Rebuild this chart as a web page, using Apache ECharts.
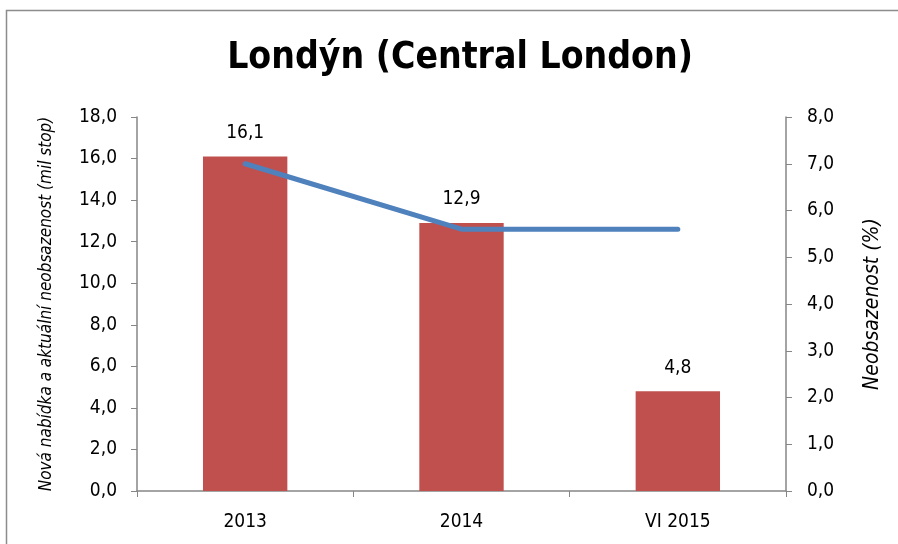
<!DOCTYPE html>
<html>
<head>
<meta charset="utf-8">
<script src="https://cdn.jsdelivr.net/npm/echarts@6/dist/echarts.min.js"></script>
<style>
  html, body { margin: 0; padding: 0; background: #fff; }
  #chart { width: 898px; height: 544px; }
</style>
</head>
<body>
<div id="chart"></div>
<script>
// data
const categories = ['2013', '2014', 'VI 2015'];
const supplyValues = [16.1, 12.9, 4.8];     // mil stop
const vacancyValues = [7.0, 5.6, 5.6];      // %

const fontFamily = '"DejaVu Sans Condensed", "Open Sans", sans-serif';
const axisColor = '#868686';
const fmt = v => v.toFixed(1).replace('.', ',');

const chart = echarts.init(document.getElementById('chart'));
const option = {
  animation: false,
  textStyle: { fontFamily: fontFamily },
  title: {
    text: 'Londýn (Central London)',
    left: 455,
    textAlign: 'center',
    top: 35,
    textStyle: { fontSize: 37, fontWeight: 'bold', color: '#000', fontFamily: fontFamily }
  },
  graphic: [{
    type: 'rect',
    shape: { x: 6.5, y: 10.5, width: 900, height: 540 },
    style: { fill: 'none', stroke: '#8c8c8c', lineWidth: 1.5 },
    silent: true
  }],
  grid: { left: 137, right: 112, top: 117, bottom: 53 },
  xAxis: {
    type: 'category',
    data: categories,
    axisLine: { lineStyle: { color: axisColor, width: 1.5 } },
    axisTick: { show: true, length: 6, lineStyle: { color: axisColor } },
    axisLabel: { color: '#000', fontSize: 19, margin: 22 }
  },
  yAxis: [{
    type: 'value',
    min: 0, max: 18, interval: 2,
    name: 'Nová nabídka a aktuální neobsazenost (mil stop)',
    nameLocation: 'middle',
    nameRotate: 90,
    nameGap: 82,
    nameTextStyle: { fontStyle: 'italic', fontSize: 17, color: '#000' },
    axisLine: { show: true, lineStyle: { color: axisColor, width: 1.5 } },
    axisTick: { show: true, length: 6, lineStyle: { color: axisColor } },
    splitLine: { show: false },
    axisLabel: { color: '#000', fontSize: 19, margin: 20, formatter: fmt }
  }, {
    type: 'value',
    min: 0, max: 8, interval: 1,
    position: 'right',
    name: 'Neobsazenost (%)',
    nameLocation: 'middle',
    nameRotate: 90,
    nameGap: 76,
    nameTextStyle: { fontStyle: 'italic', fontSize: 21, color: '#000' },
    axisLine: { show: true, lineStyle: { color: axisColor, width: 1.5 } },
    axisTick: { show: true, length: 6, lineStyle: { color: axisColor } },
    splitLine: { show: false },
    axisLabel: { color: '#000', fontSize: 19, margin: 21, formatter: fmt }
  }],
  series: [{
    name: 'Nová nabídka',
    type: 'bar',
    yAxisIndex: 0,
    data: supplyValues,
    barWidth: '39%',
    itemStyle: { color: '#C0504D' },
    label: {
      show: true,
      position: 'top',
      distance: 14,
      color: '#000',
      fontSize: 19,
      formatter: p => fmt(p.value)
    }
  }, {
    name: 'Neobsazenost',
    type: 'line',
    yAxisIndex: 1,
    data: vacancyValues,
    symbol: 'none',
    lineStyle: { color: '#4F81BD', width: 5, cap: 'round', join: 'round' },
    itemStyle: { color: '#4F81BD' }
  }]
};
chart.setOption(option);
</script>
</body>
</html>
